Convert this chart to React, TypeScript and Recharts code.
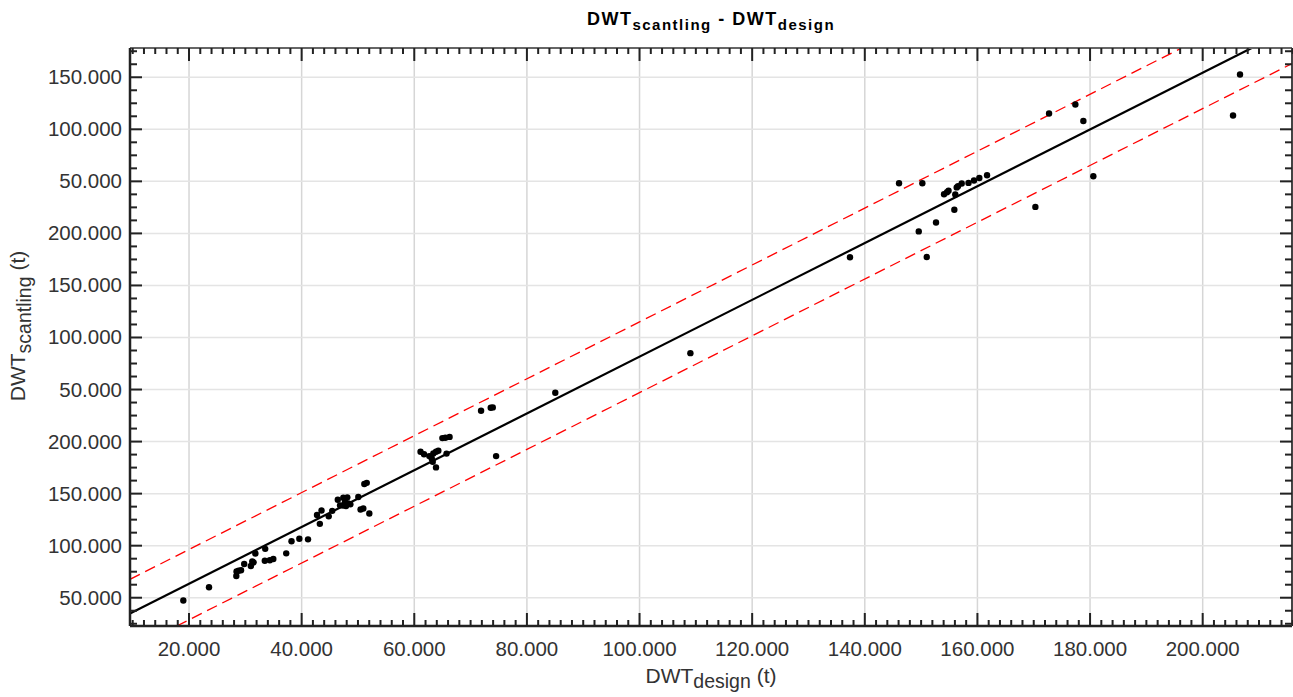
import { ScatterChart, Scatter, XAxis, YAxis, CartesianGrid, ReferenceLine } from 'recharts';

// DWT (t) per ship: design vs scantling
const designDwt = [
  18990, 23550, 28400, 28440, 28790, 29240, 29800, 30980, 31230, 31460,
  31780, 33530, 33460, 34350, 34970, 37260, 38200, 39590, 41130, 42730,
  43230, 43530, 44810, 45430, 46420, 46820, 47400, 47700, 48110, 48290,
  47880, 48650, 47350, 50060, 50460, 50950, 51130, 51560, 52020, 61110,
  61730, 62670, 63100, 63380, 63860, 64270, 63280, 63860, 64990, 65520,
  66270, 65730, 71860, 73580, 73940, 74530, 85040, 109030, 137370, 146080,
  150220, 149580, 151000, 152650, 154070, 154600, 154870, 155900, 156070, 156320,
  156550, 157210, 158420, 159390, 160340, 161710, 170290, 172720, 177390, 178810,
  180580, 205390, 206630,
];
const scantlingDwt = [
  47310, 60080, 70840, 75160, 75930, 76400, 82360, 80440, 84760, 83990,
  92440, 96950, 85530, 86010, 87160, 92630, 104250, 106650, 106080, 129410,
  120960, 133730, 128160, 133440, 144100, 138720, 146020, 141900, 146400, 140640,
  138050, 139690, 138530, 146700, 134690, 135650, 159180, 160330, 130850, 190190,
  187790, 186060, 183850, 188650, 190190, 191150, 180590, 175210, 203350, 203630,
  204500, 188460, 229560, 232440, 232830, 186060, 246840, 284960, 377150, 448200,
  448200, 401920, 377340, 410460, 437640, 439560, 441000, 422760, 437350, 444170,
  445320, 447910, 448490, 450800, 453290, 455880, 425440, 515130, 523780, 508020,
  454920, 513210, 552580,
];

// reference line and the upper / lower band (end points)
const fitLine = [{ x: 9520, y: 34830 }, { x: 208700, y: 578110 }];
const upperBand = [{ x: 9520, y: 67670 }, { x: 196270, y: 578110 }];
const lowerBand = [{ x: 17820, y: 22830 }, { x: 215860, y: 563130 }];

const xTicks = [20000, 40000, 60000, 80000, 100000, 120000, 140000, 160000, 180000, 200000];
const xTickLabels = ['20.000', '40.000', '60.000', '80.000', '100.000', '120.000', '140.000', '160.000', '180.000', '200.000'];
const yTicks = [50000, 100000, 150000, 200000, 250000, 300000, 350000, 400000, 450000, 500000, 550000];
const yTickLabels = ['50.000', '100.000', '150.000', '200.000', '50.000', '100.000', '150.000', '200.000', '50.000', '100.000', '150.000'];

const xDomain: [number, number] = [9520, 215860];
const yDomain: [number, number] = [22830, 578110];

// major + minor tick positions (2.000 t steps on x, 12.500 t steps on y)
const xAllTicks = Array.from({ length: 104 }, (_, i) => 10000 + i * 2000);
const yAllTicks = Array.from({ length: 45 }, (_, i) => 25000 + i * 12500);

const points = designDwt.map((x, i) => ({ x, y: scantlingDwt[i] }));

const font = '"Liberation Sans", Arial, sans-serif';
const tickColor = '#222';
const labelColor = '#333';

const Dot = (p: any) => <circle cx={p.cx} cy={p.cy} r={3.2} fill="#000" />;

// ticks drawn inward from the frame; labels only on bottom/left majors
const makeTick = (side: 'bottom' | 'top' | 'left' | 'right') => (p: any) => {
  const v = p.payload.value;
  const horiz = side === 'bottom' || side === 'top';
  const major = horiz ? v % 20000 === 0 : v % 50000 === 0;
  const len = horiz ? (major ? 13 : 6) : (major ? 12 : 7);
  const dir = side === 'bottom' || side === 'right' ? -1 : 1;
  const line = horiz
    ? <line x1={p.x} x2={p.x} y1={p.y} y2={p.y + dir * len} stroke={tickColor} strokeWidth={2} />
    : <line y1={p.y} y2={p.y} x1={p.x} x2={p.x + dir * len} stroke={tickColor} strokeWidth={2} />;
  let label = null;
  if (major && side === 'bottom') {
    label = <text x={p.x} y={p.y + 30} textAnchor="middle" fontSize={20.5} fill={labelColor} fontFamily={font}>{xTickLabels[xTicks.indexOf(v)]}</text>;
  } else if (major && side === 'left') {
    label = <text x={p.x - 8} y={p.y + 7} textAnchor="end" fontSize={20.5} fill={labelColor} fontFamily={font}>{yTickLabels[yTicks.indexOf(v)]}</text>;
  }
  return <g>{line}{label}</g>;
};

export default function App() {
  return (
    <div style={{ position: 'absolute', left: 0, top: 0, width: 1293, height: 697, overflow: 'hidden', background: '#fff', fontFamily: font }}>
      <div style={{ position: 'absolute', left: 0, width: 1422, top: 9, textAlign: 'center', fontWeight: 'bold', fontSize: 18, letterSpacing: 1.5, color: '#000' }}>
        DWT<sub style={{ fontSize: 15 }}>scantling</sub> - DWT<sub style={{ fontSize: 15 }}>design</sub>
      </div>
      <div style={{ position: 'absolute', left: 0, width: 1422, top: 664, textAlign: 'center', fontSize: 21, color: labelColor }}>
        DWT<sub style={{ fontSize: 19.5 }}>design</sub> (t)
      </div>
      <div style={{ position: 'absolute', left: 21, top: 326, width: 0, height: 0 }}>
        <div style={{ position: 'absolute', transform: 'translate(-50%, -50%) rotate(-90deg)', whiteSpace: 'nowrap', fontSize: 21, color: labelColor }}>
          DWT<sub style={{ fontSize: 19.5 }}>scantling</sub> (t)
        </div>
      </div>
      <ScatterChart width={1293} height={697} margin={{ top: 47, right: 0, bottom: 41, left: 80 }} style={{ position: 'absolute', left: 0, top: 0 }}>
        <XAxis xAxisId="xb" type="number" dataKey="x" domain={xDomain} allowDataOverflow ticks={xAllTicks} interval={0}
          height={30} tickSize={0} tickMargin={0} tickLine={false} tick={makeTick('bottom')}
          axisLine={{ stroke: '#222', strokeWidth: 2.5 }} />
        <XAxis xAxisId="xt" orientation="top" type="number" dataKey="x" domain={xDomain} allowDataOverflow ticks={xAllTicks} interval={0}
          height={1} tickSize={0} tickMargin={0} tickLine={false} tick={makeTick('top')}
          axisLine={{ stroke: '#666', strokeWidth: 2 }} />
        <YAxis yAxisId="yl" type="number" dataKey="y" domain={yDomain} allowDataOverflow ticks={yAllTicks} interval={0}
          width={50} tickSize={0} tickMargin={0} tickLine={false} tick={makeTick('left')}
          axisLine={{ stroke: '#222', strokeWidth: 2.5 }} />
        <YAxis yAxisId="yr" orientation="right" type="number" dataKey="y" domain={yDomain} allowDataOverflow ticks={yAllTicks} interval={0}
          width={1} tickSize={0} tickMargin={0} tickLine={false} tick={makeTick('right')}
          axisLine={{ stroke: '#444', strokeWidth: 2 }} />

        {/* major-only axes feeding the grid */}
        <XAxis xAxisId="gx" type="number" dataKey="x" domain={xDomain} allowDataOverflow ticks={xTicks} interval={0} height={0} hide />
        <YAxis yAxisId="gy" type="number" dataKey="y" domain={yDomain} allowDataOverflow ticks={yTicks} interval={0} width={0} hide />

        <CartesianGrid xAxisId="gx" yAxisId="gy" horizontal={false} stroke="#d6d6d6" strokeWidth={1.5} />
        <CartesianGrid xAxisId="gx" yAxisId="gy" vertical={false} stroke="#e4e4e4" strokeWidth={1.5} />

        <ReferenceLine xAxisId="xb" yAxisId="yl" segment={upperBand} stroke="#ff0000" strokeWidth={1.3} strokeDasharray="11 6" ifOverflow="hidden" />
        <ReferenceLine xAxisId="xb" yAxisId="yl" segment={lowerBand} stroke="#ff0000" strokeWidth={1.3} strokeDasharray="11 6" ifOverflow="hidden" />
        <ReferenceLine xAxisId="xb" yAxisId="yl" segment={fitLine} stroke="#000" strokeWidth={2.2} ifOverflow="hidden" />

        <Scatter xAxisId="xb" yAxisId="yl" data={points} shape={Dot} isAnimationActive={false} />
      </ScatterChart>
    </div>
  );
}
